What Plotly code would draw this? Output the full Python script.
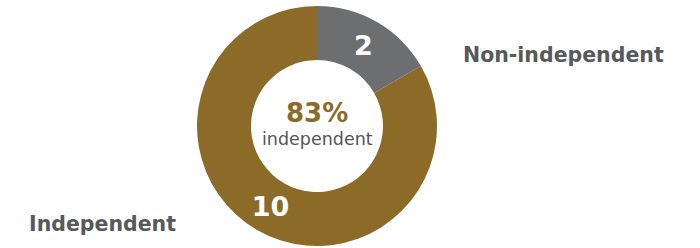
import plotly.graph_objects as go

categories = ["Non-independent", "Independent"]
values = [2, 10]
colors = ["#6d6e70", "#8c6a28"]
center_pct = "83%"
center_sub = "independent"

FONT = "DejaVu Sans"

fig = go.Figure(go.Pie(
    labels=categories,
    values=values,
    hole=0.55,
    sort=False,
    direction="clockwise",
    rotation=0,
    marker=dict(colors=colors, line=dict(width=0)),
    textinfo="value",
    textposition="inside",
    insidetextorientation="horizontal",
    textfont=dict(family=FONT, size=27, color="white", weight="bold"),
    showlegend=False,
    hoverinfo="label+value",
    domain=dict(x=[0.2814, 0.6243], y=[0, 1]),
))

fig.add_annotation(x=0.4529, y=0.554, xref="paper", yref="paper", yanchor="middle",
                   text="<b>" + center_pct + "</b>", showarrow=False,
                   font=dict(family=FONT, size=26, color="#8c6a28"))
fig.add_annotation(x=0.4529, y=0.445, xref="paper", yref="paper", yanchor="middle",
                   text=center_sub, showarrow=False,
                   font=dict(family=FONT, size=17.5, color="#555555"))
fig.add_annotation(x=0.659, y=0.796, xref="paper", yref="paper", xanchor="left",
                   yanchor="middle",
                   text="<b>" + categories[0] + "</b>", showarrow=False,
                   font=dict(family=FONT, size=20.5, color="#58595b"))
fig.add_annotation(x=0.039, y=0.092, xref="paper", yref="paper", xanchor="left",
                   yanchor="middle",
                   text="<b>" + categories[1] + "</b>", showarrow=False,
                   font=dict(family=FONT, size=20.5, color="#58595b"))

fig.update_layout(
    width=700, height=248,
    margin=dict(l=0, r=0, t=6, b=2),
    paper_bgcolor="white",
    plot_bgcolor="white",
)

fig.write_html("out.html", config={"displayModeBar": False},
               post_script="document.body.style.margin='0';")
